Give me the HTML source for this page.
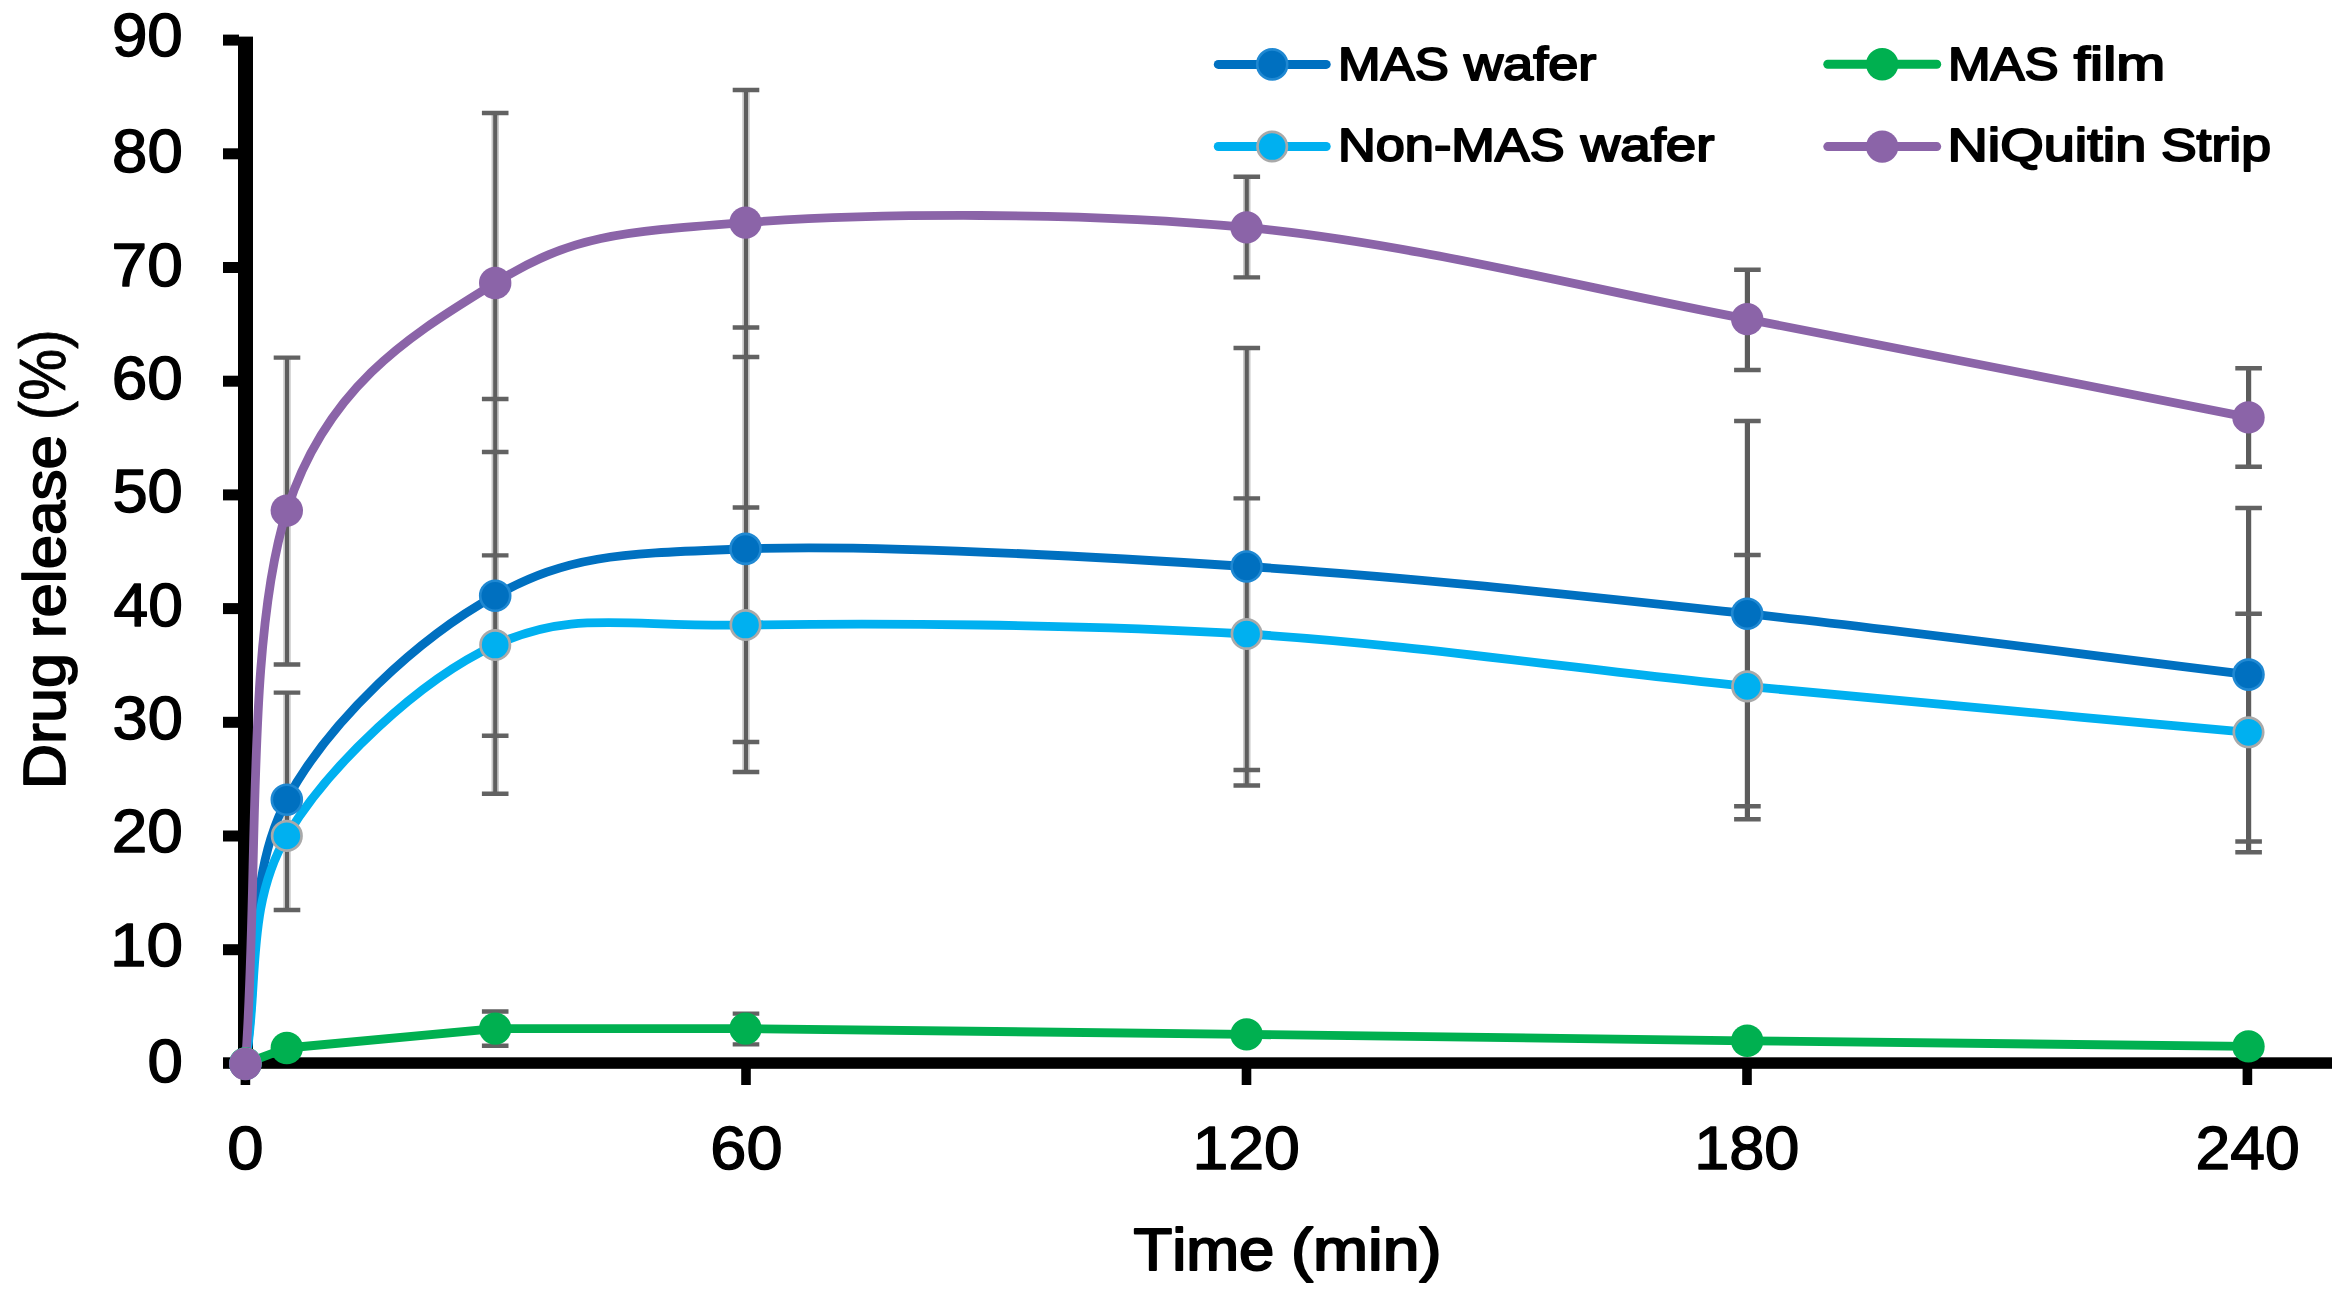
<!DOCTYPE html>
<html lang="en"><head><meta charset="utf-8"><title>Drug release chart</title>
<style>html,body{margin:0;padding:0;background:#fff;overflow:hidden}svg{display:block}text{font-family:"Liberation Sans",sans-serif;fill:#000;font-kerning:none}.tk{font-size:61.4px;stroke:#000;stroke-width:1.4px;stroke-linejoin:round}.ti{font-size:58.5px;stroke:#000;stroke-width:2px;stroke-linejoin:round}.lg{font-size:45.8px;stroke:#000;stroke-width:1.9px;stroke-linejoin:round}</style></head><body>
<svg width="2348" height="1304" viewBox="0 0 2348 1304">
<rect width="2348" height="1304" fill="#fff"/>
<g fill="#000">
<rect x="238" y="36.6" width="15" height="1032.2"/>
<rect x="223" y="1057.3" width="2109.0" height="11.5"/>
<rect x="223" y="944.2" width="16" height="11"/>
<rect x="223" y="830.5" width="16" height="11"/>
<rect x="223" y="716.8" width="16" height="11"/>
<rect x="223" y="603.1" width="16" height="11"/>
<rect x="223" y="489.4" width="16" height="11"/>
<rect x="223" y="375.7" width="16" height="11"/>
<rect x="223" y="262.0" width="16" height="11"/>
<rect x="223" y="148.3" width="16" height="11"/>
<rect x="223" y="34.6" width="16" height="11"/>
<rect x="240.6" y="1068" width="9.6" height="17"/>
<rect x="741.2" y="1068" width="9.6" height="17"/>
<rect x="1241.7" y="1068" width="9.6" height="17"/>
<rect x="1742.2" y="1068" width="9.6" height="17"/>
<rect x="2242.6" y="1068" width="9.6" height="17"/>
</g>
<g fill="none"><path stroke="#c6c6c6" stroke-width="7.4" d="M287.0 692.6V910.0M495.2 399.0V793.7M746.0 327.5V772.0M1246.8 348.0V785.5M495.2 1011.5V1045.8M746.0 1013.6V1044.4M495.2 555.4V735.7M746.0 507.5V742.0M1246.8 498.4V770.0M287.0 357.6V664.5M495.2 113.0V452.0M746.0 90.0V357.0M1246.8 176.8V277.4"/><path stroke="#5e5e5e" stroke-width="4" d="M287.0 692.6V910.0M495.2 399.0V793.7M746.0 327.5V772.0M1246.8 348.0V785.5M495.2 1011.5V1045.8M746.0 1013.6V1044.4M495.2 555.4V735.7M746.0 507.5V742.0M1246.8 498.4V770.0M287.0 357.6V664.5M495.2 113.0V452.0M746.0 90.0V357.0M1246.8 176.8V277.4"/><path stroke="#5c5c5c" stroke-width="5.2" d="M1747.4 421.0V806.3M2248.6 508.0V841.5M1747.4 555.0V819.2M2248.6 613.7V852.2M1747.4 269.8V370.0M2248.6 368.3V466.8"/><path stroke="#626262" stroke-width="4.4" d="M273.7 692.6H300.3M273.7 910.0H300.3M481.9 399.0H508.5M481.9 793.7H508.5M732.7 327.5H759.3M732.7 772.0H759.3M1233.5 348.0H1260.1M1233.5 785.5H1260.1M1734.1 421.0H1760.7M1734.1 806.3H1760.7M2235.3 508.0H2261.9M2235.3 841.5H2261.9M481.9 1011.5H508.5M481.9 1045.8H508.5M732.7 1013.6H759.3M732.7 1044.4H759.3M481.9 555.4H508.5M481.9 735.7H508.5M732.7 507.5H759.3M732.7 742.0H759.3M1233.5 498.4H1260.1M1233.5 770.0H1260.1M1734.1 555.0H1760.7M1734.1 819.2H1760.7M2235.3 613.7H2261.9M2235.3 852.2H2261.9M273.7 357.6H300.3M273.7 664.5H300.3M481.9 113.0H508.5M481.9 452.0H508.5M732.7 90.0H759.3M732.7 357.0H759.3M1233.5 176.8H1260.1M1233.5 277.4H1260.1M1734.1 269.8H1760.7M1734.1 370.0H1760.7M2235.3 368.3H2261.9M2235.3 466.8H2261.9"/></g>
<path d="M245.40 1063.50 C259.20 975.57 245.17 877.67 286.80 799.70 C328.43 721.73 418.75 637.50 495.20 595.70 C571.65 553.90 620.27 553.77 745.50 548.90 C870.73 544.03 1079.65 555.70 1246.60 566.50 C1413.55 577.30 1580.22 595.68 1747.20 613.70 C1914.18 631.72 2081.40 654.30 2248.50 674.60" fill="none" stroke="#0070C0" stroke-width="8.8" stroke-linejoin="round" stroke-linecap="round"/>
<path d="M245.4 1063.5 L286.8 1048.0 L495.2 1028.6 L745.5 1028.6 L1246.6 1034.4 L1747.2 1040.8 L2248.5 1046.4" fill="none" stroke="#00B050" stroke-width="8.8" stroke-linejoin="round" stroke-linecap="round"/>
<path d="M245.40 1063.50 C259.20 987.63 245.17 905.65 286.80 835.90 C328.43 766.15 418.75 680.15 495.20 645.00 C571.65 609.85 620.27 626.83 745.50 625.00 C870.73 623.17 1079.65 623.77 1246.60 634.00 C1413.55 644.23 1580.22 670.02 1747.20 686.40 C1914.18 702.78 2081.40 717.00 2248.50 732.30" fill="none" stroke="#00B0F0" stroke-width="8.8" stroke-linejoin="round" stroke-linecap="round"/>
<path d="M245.40 1064.00 C259.20 879.53 245.17 640.77 286.80 510.60 C328.43 380.43 418.75 331.00 495.20 283.00 C571.65 235.00 620.27 231.87 745.50 222.60 C870.73 213.33 1079.65 211.32 1246.60 227.40 C1413.55 243.48 1580.22 287.43 1747.20 319.10 C1914.18 350.77 2081.40 384.63 2248.50 417.40" fill="none" stroke="#8B64A8" stroke-width="8.8" stroke-linejoin="round" stroke-linecap="round"/>
<circle cx="245.4" cy="1063.5" r="15" fill="#0070C0" stroke="#1F88D2" stroke-width="2.6"/>
<circle cx="286.8" cy="799.7" r="15" fill="#0070C0" stroke="#1F88D2" stroke-width="2.6"/>
<circle cx="495.2" cy="595.7" r="15" fill="#0070C0" stroke="#1F88D2" stroke-width="2.6"/>
<circle cx="745.5" cy="548.9" r="15" fill="#0070C0" stroke="#1F88D2" stroke-width="2.6"/>
<circle cx="1246.6" cy="566.5" r="15" fill="#0070C0" stroke="#1F88D2" stroke-width="2.6"/>
<circle cx="1747.2" cy="613.7" r="15" fill="#0070C0" stroke="#1F88D2" stroke-width="2.6"/>
<circle cx="2248.5" cy="674.6" r="15" fill="#0070C0" stroke="#1F88D2" stroke-width="2.6"/>
<circle cx="245.4" cy="1063.5" r="16.2" fill="#00B050"/>
<circle cx="286.8" cy="1048.0" r="16.2" fill="#00B050"/>
<circle cx="495.2" cy="1028.6" r="16.2" fill="#00B050"/>
<circle cx="745.5" cy="1028.6" r="16.2" fill="#00B050"/>
<circle cx="1246.6" cy="1034.4" r="16.2" fill="#00B050"/>
<circle cx="1747.2" cy="1040.8" r="16.2" fill="#00B050"/>
<circle cx="2248.5" cy="1046.4" r="16.2" fill="#00B050"/>
<circle cx="245.4" cy="1063.5" r="14.7" fill="#00B0F0" stroke="#A9A9A9" stroke-width="2.7"/>
<circle cx="286.8" cy="835.9" r="14.7" fill="#00B0F0" stroke="#A9A9A9" stroke-width="2.7"/>
<circle cx="495.2" cy="645.0" r="14.7" fill="#00B0F0" stroke="#A9A9A9" stroke-width="2.7"/>
<circle cx="745.5" cy="625.0" r="14.7" fill="#00B0F0" stroke="#A9A9A9" stroke-width="2.7"/>
<circle cx="1246.6" cy="634.0" r="14.7" fill="#00B0F0" stroke="#A9A9A9" stroke-width="2.7"/>
<circle cx="1747.2" cy="686.4" r="14.7" fill="#00B0F0" stroke="#A9A9A9" stroke-width="2.7"/>
<circle cx="2248.5" cy="732.3" r="14.7" fill="#00B0F0" stroke="#A9A9A9" stroke-width="2.7"/>
<circle cx="245.4" cy="1064.0" r="16.2" fill="#8B64A8"/>
<circle cx="286.8" cy="510.6" r="16.2" fill="#8B64A8"/>
<circle cx="495.2" cy="283.0" r="16.2" fill="#8B64A8"/>
<circle cx="745.5" cy="222.6" r="16.2" fill="#8B64A8"/>
<circle cx="1246.6" cy="227.4" r="16.2" fill="#8B64A8"/>
<circle cx="1747.2" cy="319.1" r="16.2" fill="#8B64A8"/>
<circle cx="2248.5" cy="417.4" r="16.2" fill="#8B64A8"/>
<text class="tk" y="1082.1"><tspan x="147.4" textLength="35.4" lengthAdjust="spacingAndGlyphs">0</tspan></text>
<text class="tk" y="965.9"><tspan x="109.9" textLength="73.0" lengthAdjust="spacingAndGlyphs">10</tspan></text>
<text class="tk" y="852.2"><tspan x="111.7" textLength="71.1" lengthAdjust="spacingAndGlyphs">20</tspan></text>
<text class="tk" y="739.2"><tspan x="112.5" textLength="70.3" lengthAdjust="spacingAndGlyphs">30</tspan></text>
<text class="tk" y="625.6"><tspan x="113.5" textLength="69.3" lengthAdjust="spacingAndGlyphs">40</tspan></text>
<text class="tk" y="512.2"><tspan x="112.4" textLength="70.4" lengthAdjust="spacingAndGlyphs">50</tspan></text>
<text class="tk" y="399.1"><tspan x="111.7" textLength="71.1" lengthAdjust="spacingAndGlyphs">60</tspan></text>
<text class="tk" y="285.6"><tspan x="111.6" textLength="71.2" lengthAdjust="spacingAndGlyphs">70</tspan></text>
<text class="tk" y="172.3"><tspan x="112.1" textLength="70.6" lengthAdjust="spacingAndGlyphs">80</tspan></text>
<text class="tk" y="55.8"><tspan x="111.9" textLength="70.9" lengthAdjust="spacingAndGlyphs">90</tspan></text>
<text class="tk" y="1169.2"><tspan x="227.2" textLength="36.3" lengthAdjust="spacingAndGlyphs">0</tspan></text>
<text class="tk" y="1169.2"><tspan x="710.3" textLength="72.2" lengthAdjust="spacingAndGlyphs">60</tspan></text>
<text class="tk" y="1169.2"><tspan x="1192.4" textLength="107.5" lengthAdjust="spacingAndGlyphs">120</tspan></text>
<text class="tk" y="1169.2"><tspan x="1694.2" textLength="105.2" lengthAdjust="spacingAndGlyphs">180</tspan></text>
<text class="tk" y="1169.2"><tspan x="2195.5" textLength="104.1" lengthAdjust="spacingAndGlyphs">240</tspan></text>
<text class="ti" y="1270.2"><tspan x="1133.4" textLength="141.0" lengthAdjust="spacingAndGlyphs">Time</tspan> <tspan x="1290.9" textLength="150.6" lengthAdjust="spacingAndGlyphs">(min)</tspan></text>
<text class="ti" style="font-size:59.6px;stroke-width:1.7px" transform="translate(64.7 785.6) rotate(-90)"><tspan x="-3.7" textLength="136.3" lengthAdjust="spacingAndGlyphs">Drug</tspan> <tspan x="147.4" textLength="203.2" lengthAdjust="spacingAndGlyphs">release</tspan> <tspan stroke-width="0.8" font-size="65.5" x="365.4" textLength="90.8" lengthAdjust="spacingAndGlyphs">(%)</tspan></text>
<path d="M1218.3 64.4H1326.2" stroke="#0070C0" stroke-width="9" stroke-linecap="round" fill="none"/><circle cx="1272.2" cy="64.4" r="15" fill="#0070C0" stroke="#1F88D2" stroke-width="2.6"/><text class="lg" y="80.4"><tspan x="1338.1" textLength="110.7" lengthAdjust="spacingAndGlyphs">MAS</tspan> <tspan x="1463.9" textLength="132.5" lengthAdjust="spacingAndGlyphs">wafer</tspan></text>
<path d="M1218.3 146.5H1326.2" stroke="#00B0F0" stroke-width="9" stroke-linecap="round" fill="none"/><circle cx="1272.2" cy="146.5" r="14.7" fill="#00B0F0" stroke="#A9A9A9" stroke-width="2.7"/><text class="lg" y="161.4"><tspan x="1338.0" textLength="226.6" lengthAdjust="spacingAndGlyphs">Non-MAS</tspan> <tspan x="1580.8" textLength="133.6" lengthAdjust="spacingAndGlyphs">wafer</tspan></text>
<path d="M1827.8 64.2H1936.7" stroke="#00B050" stroke-width="9" stroke-linecap="round" fill="none"/><circle cx="1882.2" cy="64.2" r="16.2" fill="#00B050"/><text class="lg" y="80.4"><tspan x="1947.9" textLength="110.8" lengthAdjust="spacingAndGlyphs">MAS</tspan> <tspan x="2073.8" textLength="91.4" lengthAdjust="spacingAndGlyphs">film</tspan></text>
<path d="M1827.8 146.6H1936.7" stroke="#8B64A8" stroke-width="9" stroke-linecap="round" fill="none"/><circle cx="1882.2" cy="146.6" r="16.2" fill="#8B64A8"/><text class="lg" y="160.9"><tspan x="1947.5" textLength="198.8" lengthAdjust="spacingAndGlyphs">NiQuitin</tspan> <tspan x="2160.9" textLength="110.1" lengthAdjust="spacingAndGlyphs">Strip</tspan></text>
</svg></body></html>
